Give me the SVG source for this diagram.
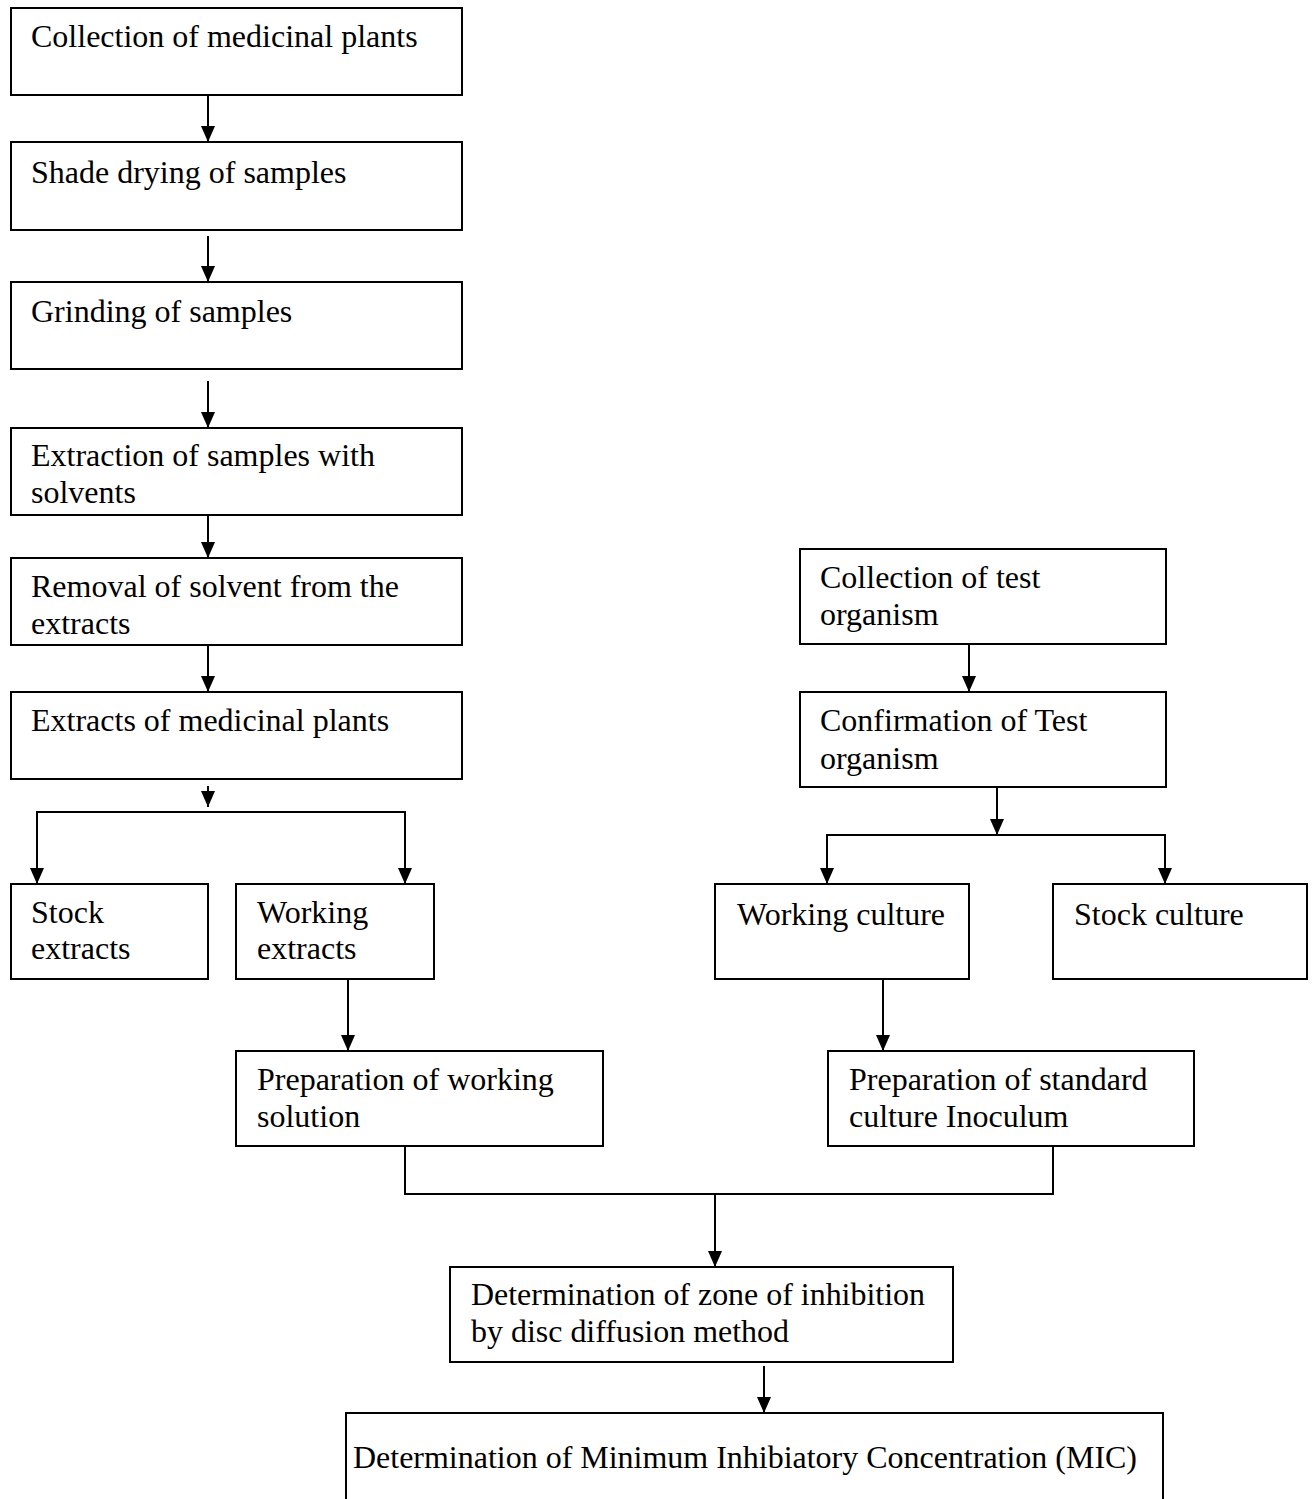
<svg xmlns="http://www.w3.org/2000/svg" width="1315" height="1499" viewBox="0 0 1315 1499">
<defs>
<marker id="ah" markerUnits="userSpaceOnUse" markerWidth="16" markerHeight="14" refX="16" refY="7" orient="auto">
<path d="M0,0 L16,7 L0,14 z" fill="#000"/>
</marker>
<style>
.b{fill:#fff;stroke:#000;stroke-width:2}
.t{font-family:"Liberation Serif","Times New Roman",serif;font-size:32px;fill:#000}
.c line,.c polyline{stroke:#000;stroke-width:2;fill:none}
</style>
</defs>
<rect width="1315" height="1499" fill="#fff"/>
<g class="c" id="connectors">
<line x1="208" y1="95" x2="208" y2="142" marker-end="url(#ah)"/>
<line x1="208" y1="236" x2="208" y2="282" marker-end="url(#ah)"/>
<line x1="208" y1="381" x2="208" y2="428" marker-end="url(#ah)"/>
<line x1="208" y1="512" x2="208" y2="558" marker-end="url(#ah)"/>
<line x1="208" y1="645" x2="208" y2="692" marker-end="url(#ah)"/>
<line x1="208" y1="786" x2="208" y2="807" marker-end="url(#ah)"/>
<polyline points="37,884 37,812 405,812 405,884" marker-end="url(#ah)"/>
<line x1="37" y1="812" x2="37" y2="884" marker-end="url(#ah)"/>
<line x1="348" y1="979" x2="348" y2="1051" marker-end="url(#ah)"/>
<line x1="969" y1="644" x2="969" y2="692" marker-end="url(#ah)"/>
<line x1="997" y1="787" x2="997" y2="835" marker-end="url(#ah)"/>
<polyline points="827,884 827,835 1165,835 1165,884" marker-end="url(#ah)"/>
<line x1="827" y1="835" x2="827" y2="884" marker-end="url(#ah)"/>
<line x1="883" y1="979" x2="883" y2="1051" marker-end="url(#ah)"/>
<polyline points="405,1146 405,1194 1053,1194 1053,1146"/>
<line x1="715" y1="1194" x2="715" y2="1267" marker-end="url(#ah)"/>
<line x1="764" y1="1366" x2="764" y2="1413" marker-end="url(#ah)"/>
</g>
<g id="n1"><rect class="b" x="11" y="8" width="451" height="87"/><text class="t" x="31" y="47">Collection of medicinal plants</text></g>
<g id="n2"><rect class="b" x="11" y="142" width="451" height="88"/><text class="t" x="31" y="183">Shade drying of samples</text></g>
<g id="n3"><rect class="b" x="11" y="282" width="451" height="87"/><text class="t" x="31" y="322">Grinding of samples</text></g>
<g id="n4"><rect class="b" x="11" y="428" width="451" height="87"/><text class="t" x="31" y="466">Extraction of samples with</text><text class="t" x="31" y="503">solvents</text></g>
<g id="n5"><rect class="b" x="11" y="558" width="451" height="87"/><text class="t" x="31" y="597">Removal of solvent from the</text><text class="t" x="31" y="634">extracts</text></g>
<g id="n6"><rect class="b" x="11" y="692" width="451" height="87"/><text class="t" x="31" y="731">Extracts of medicinal plants</text></g>
<g id="n7"><rect class="b" x="11" y="884" width="197" height="95"/><text class="t" x="31" y="923">Stock</text><text class="t" x="31" y="959">extracts</text></g>
<g id="n8"><rect class="b" x="236" y="884" width="198" height="95"/><text class="t" x="257" y="923">Working</text><text class="t" x="257" y="959">extracts</text></g>
<g id="n9"><rect class="b" x="236" y="1051" width="367" height="95"/><text class="t" x="257" y="1090">Preparation of working</text><text class="t" x="257" y="1127">solution</text></g>
<g id="n10"><rect class="b" x="800" y="549" width="366" height="95"/><text class="t" x="820" y="588">Collection of test</text><text class="t" x="820" y="625">organism</text></g>
<g id="n11"><rect class="b" x="800" y="692" width="366" height="95"/><text class="t" x="820" y="731">Confirmation of Test</text><text class="t" x="820" y="769">organism</text></g>
<g id="n12"><rect class="b" x="715" y="884" width="254" height="95"/><text class="t" x="737" y="925">Working culture</text></g>
<g id="n13"><rect class="b" x="1053" y="884" width="254" height="95"/><text class="t" x="1074" y="925">Stock culture</text></g>
<g id="n14"><rect class="b" x="828" y="1051" width="366" height="95"/><text class="t" x="849" y="1090">Preparation of standard</text><text class="t" x="849" y="1127">culture Inoculum</text></g>
<g id="n15"><rect class="b" x="450" y="1267" width="503" height="95"/><text class="t" x="471" y="1305" textLength="454" lengthAdjust="spacingAndGlyphs">Determination of zone of inhibition</text><text class="t" x="471" y="1342" textLength="318" lengthAdjust="spacingAndGlyphs">by disc diffusion method</text></g>
<g id="n16"><rect class="b" x="346" y="1413" width="817" height="100"/><text class="t" x="353" y="1468" textLength="784" lengthAdjust="spacingAndGlyphs">Determination of Minimum Inhibiatory Concentration (MIC)</text></g>
</svg>
